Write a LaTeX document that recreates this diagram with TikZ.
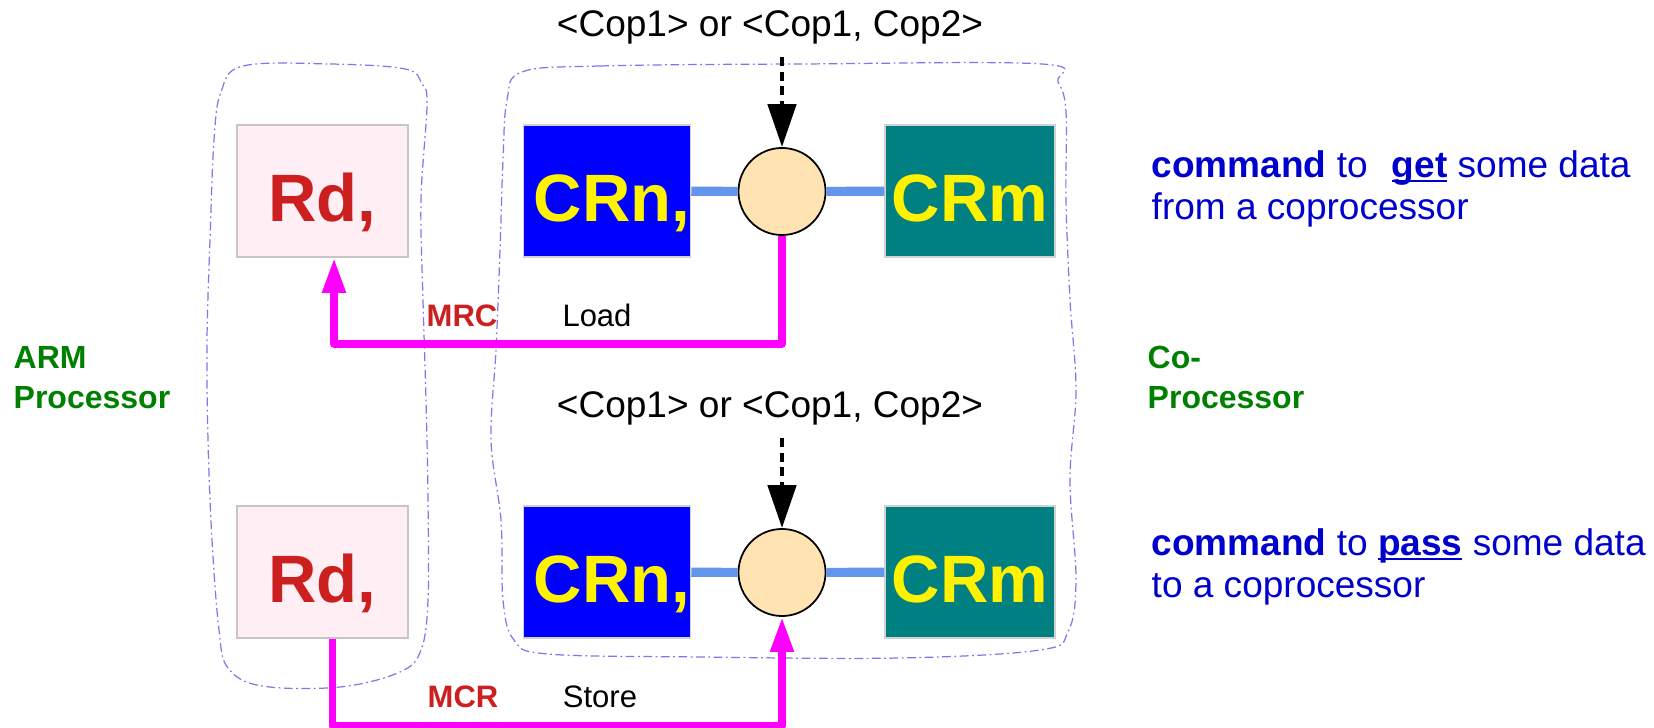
\documentclass[tikz,border=0pt]{standalone}
\usepackage{fontspec}
\setmainfont{Liberation Sans}
\usetikzlibrary{arrows.meta, positioning, calc}
\definecolor{regPink}{HTML}{FFEEF3}
\definecolor{regRed}{HTML}{CC1F1F}
\definecolor{crTeal}{HTML}{008080}
\definecolor{opFill}{HTML}{FFE3B3}
\definecolor{linkBlue}{HTML}{6495ED}
\definecolor{armGreen}{HTML}{008000}
\definecolor{noteBlue}{HTML}{0000CC}
\definecolor{blobPurple}{HTML}{8C72E6}
\definecolor{pathMagenta}{HTML}{FF00FF}
\newcommand{\regfont}{\fontsize{19.06pt}{22pt}\selectfont\bfseries}
\newcommand{\copfont}{\fontsize{10.53pt}{12pt}\selectfont}
\newcommand{\notefont}{\fontsize{10.53pt}{11.95pt}\selectfont}
\newcommand{\tagfont}{\fontsize{8.82pt}{10pt}\selectfont}
\newcommand{\sidefont}{\fontsize{9.1pt}{11.38pt}\selectfont\bfseries}
\newlength{\ulwd}
\newcommand{\ulword}[1]{\settowidth{\ulwd}{#1}\rlap{\rule[-0.12em]{\ulwd}{0.07em}}#1}

\begin{document}
\begin{tikzpicture}[x=0.01cm, y=-0.01cm,
    regbox/.style={draw=gray!45, fill=regPink, text=regRed, font=\regfont, minimum width=1.71cm, minimum height=1.32cm, inner sep=0pt, text height=0.6cm, text depth=0pt},
    crbox/.style={draw=gray!35, text=yellow, font=\regfont, minimum width=1.67cm, minimum height=1.32cm, inner sep=0pt, text height=0.6cm, text depth=0pt},
    opnode/.style={circle, draw, fill=opFill, minimum size=0.87cm, inner sep=0pt, line width=0.5pt},
    link/.style={linkBlue, line width=2.6pt},
    coplabel/.style={font=\copfont, inner sep=0pt, anchor=base},
    tag/.style={font=\tagfont, inner sep=0pt, anchor=base},
    sidelabel/.style={font=\sidefont, text=armGreen, align=left, inner sep=0pt, anchor=base west},
    note/.style={font=\notefont, text=noteBlue, align=left, inner sep=0pt, anchor=base west},
    magline/.style={pathMagenta, line width=2.2pt, line join=round, -{Triangle[length=0.35cm, width=0.22cm]}},
    dasharrow/.style={line width=1.4pt, dash pattern=on 0.09cm off 0.055cm, -{Triangle[length=0.43cm, width=0.28cm]}},
    blob/.style={blobPurple, line width=0.35pt, dash pattern=on 2.5pt off 1pt on 0.5pt off 1pt}]
  \useasboundingbox (0,0) rectangle (1654,728);

  % outlines of the two sides
  \draw[blob] plot[smooth cycle, tension=0.6] coordinates {(243,66) (330,64) (405,69) (422,84) (427,105) (421,200) (423,300) (426,400) (428,500) (428,600) (421,650) (400,672) (340,687) (262,686) (228,668) (219,630) (212,540) (208,440) (207,340) (210,240) (214,140) (221,92)};
  \draw[blob] plot[smooth cycle, tension=0.6] coordinates {(522,72) (600,66) (800,64) (1042,64) (1058,82) (1066,112) (1066,200) (1070,300) (1076,390) (1070,480) (1076,580) (1068,632) (1040,650) (900,658) (700,657) (548,654) (514,640) (503,600) (501,520) (491,440) (496,350) (500,250) (503,160) (507,100)};

  % MRC row
  \node[regbox] (rd1) at (322.5,191) {Rd,};
  \node[crbox, fill=blue] (crn1) at (607,191) {\hspace{0.1cm}CRn,};
  \node[opnode] (op1) at (782,191.5) {};
  \node[crbox, fill=crTeal, minimum width=1.7cm] (crm1) at (970,191) {CRm};
  \node[coplabel] (cop1) at (770,37) {<Cop1> or <Cop1, Cop2>};
  \draw[link] (crn1) -- (op1);
  \draw[link] (op1) -- (crm1);
  \draw[dasharrow] ($(op1.north |- cop1.south)+(0,12)$) -- (op1.north);
  \draw[magline] (op1.south) -- ++(0,108) -| ([xshift=0.115cm]rd1.south);
  \node[tag, text=regRed, font=\tagfont\bfseries] (mrc) at (462,327) {MRC};
  \node[tag] (load) at (597,327) {Load};

  % MCR row
  \node[regbox] (rd2) at (322.5,572) {Rd,};
  \node[crbox, fill=blue] (crn2) at (607,572) {\hspace{0.1cm}CRn,};
  \node[opnode] (op2) at (782,572.5) {};
  \node[crbox, fill=crTeal, minimum width=1.7cm] (crm2) at (970,572) {CRm};
  \node[coplabel] (cop2) at (770,418) {<Cop1> or <Cop1, Cop2>};
  \draw[link] (crn2) -- (op2);
  \draw[link] (op2) -- (crm2);
  \draw[dasharrow] ($(op2.north |- cop2.south)+(0,12)$) -- (op2.north);
  \draw[magline] ([xshift=0.1cm]rd2.south) -- ++(0,87) -| (op2.south);
  \node[tag, text=regRed, font=\tagfont\bfseries] (mcr) at (463,708) {MCR};
  \node[tag] (store) at (600,708) {Store};

  % side names and notes (base = last line)
  \node[sidelabel] (arm) at (13,409) {ARM\\Processor};
  \node[sidelabel] (copro) at (1147,409) {Co-\\Processor};
  \node[note] (get) at (1151,220) {\textbf{command} to\hspace{0.65em}\ulword{\textbf{get}} some data\\from a coprocessor};
  \node[note] (pass) at (1151,598) {\textbf{command} to \ulword{\textbf{pass}} some data\\to a coprocessor};
\end{tikzpicture}
\end{document}
